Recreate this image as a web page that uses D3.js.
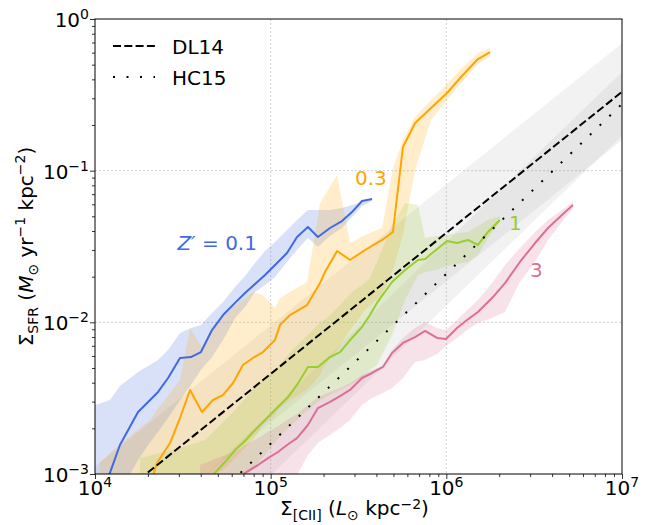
<!DOCTYPE html>
<html>
<head>
<meta charset="utf-8">
<script src="https://cdn.jsdelivr.net/npm/d3@7/dist/d3.min.js"></script>
<style>
  body { margin: 0; background: #fff; }
  text { font-family: "DejaVu Sans", sans-serif; }
</style>
</head>
<body>
<svg id="chart" width="652" height="525"></svg>
<script>
// all values below are log10 of Sigma_[CII] (x) and Sigma_SFR (y)

// Z' = 0.1
const z01X  = [3.972, 4.085, 4.142, 4.245, 4.302, 4.359, 4.416, 4.484, 4.546, 4.603, 4.666, 4.729, 4.797, 4.854, 4.911, 4.968, 5.025, 5.093, 5.150, 5.212, 5.269, 5.338, 5.406, 5.463, 5.520, 5.577];
const z01Y  = [-3.369, -2.993, -2.809, -2.591, -2.525, -2.459, -2.367, -2.235, -2.229, -2.196, -2.051, -1.952, -1.872, -1.807, -1.747, -1.688, -1.622, -1.543, -1.437, -1.371, -1.437, -1.378, -1.332, -1.273, -1.200, -1.187];
const z01Hi = [-2.558, -2.512, -2.420, -2.327, -2.288, -2.248, -2.182, -2.070, -2.037, -2.018, -1.938, -1.866, -1.767, -1.694, -1.609, -1.530, -1.470, -1.391, -1.325, -1.259, -1.259, -1.259, -1.246, -1.226, -1.207, -1.180];
const z01Lo = [-3.567, -3.270, -3.119, -2.908, -2.809, -2.723, -2.631, -2.512, -2.413, -2.314, -2.229, -2.116, -1.971, -1.899, -1.800, -1.754, -1.701, -1.602, -1.523, -1.444, -1.503, -1.431, -1.378, -1.306, -1.233, -1.200];

// Z' = 0.3
const z03X  = [4.028, 4.171, 4.313, 4.353, 4.427, 4.484, 4.541, 4.609, 4.672, 4.729, 4.786, 4.842, 4.899, 4.956, 5.025, 5.053, 5.110, 5.207, 5.281, 5.309, 5.378, 5.452, 5.537, 5.634, 5.696, 5.753, 5.822, 5.913, 6.004, 6.089, 6.180, 6.249];
const z03Y  = [-4.160, -3.633, -3.079, -2.927, -2.796, -2.631, -2.446, -2.591, -2.512, -2.479, -2.400, -2.281, -2.235, -2.196, -2.116, -2.018, -1.952, -1.886, -1.741, -1.668, -1.530, -1.589, -1.523, -1.457, -1.404, -0.844, -0.686, -0.587, -0.488, -0.376, -0.264, -0.218];
const z03Hi = [-2.921, -2.776, -2.644, -2.578, -2.466, -2.380, -2.037, -2.163, -2.031, -1.952, -1.899, -1.853, -1.800, -1.820, -1.905, -1.840, -1.800, -1.734, -1.213, -1.160, -1.028, -1.477, -1.424, -1.378, -0.982, -0.798, -0.646, -0.534, -0.429, -0.323, -0.224, -0.191];
const z03Lo = [-4.358, -3.831, -3.303, -3.237, -3.171, -3.105, -3.039, -3.026, -3.006, -2.974, -2.908, -2.842, -2.776, -2.677, -2.611, -2.565, -2.512, -2.446, -2.347, -2.281, -2.182, -2.051, -1.919, -1.820, -1.655, -1.424, -0.996, -0.666, -0.534, -0.415, -0.297, -0.244];

// Z' = 1
const z1X  = [4.256, 4.398, 4.541, 4.626, 4.683, 4.740, 4.797, 4.848, 4.894, 4.968, 5.036, 5.099, 5.150, 5.212, 5.269, 5.338, 5.395, 5.463, 5.520, 5.565, 5.605, 5.691, 5.765, 5.839, 5.879, 5.941, 6.004, 6.061, 6.123, 6.180, 6.237, 6.305];
const z1Y  = [-3.732, -3.488, -3.237, -3.092, -2.993, -2.921, -2.842, -2.789, -2.730, -2.644, -2.565, -2.492, -2.413, -2.294, -2.294, -2.229, -2.196, -2.103, -2.031, -1.952, -1.872, -1.734, -1.655, -1.589, -1.582, -1.523, -1.464, -1.477, -1.457, -1.490, -1.404, -1.325];
const z1Hi = [-2.894, -2.855, -2.809, -2.776, -2.710, -2.644, -2.578, -2.512, -2.446, -2.367, -2.301, -2.215, -2.149, -2.083, -2.018, -1.952, -1.886, -1.800, -1.754, -1.708, -1.602, -1.358, -1.213, -1.226, -1.444, -1.431, -1.424, -1.411, -1.404, -1.365, -1.325, -1.299];
const z1Lo = [-3.963, -3.765, -3.501, -3.303, -3.237, -3.171, -3.105, -3.039, -2.974, -2.875, -2.776, -2.697, -2.644, -2.578, -2.525, -2.479, -2.446, -2.407, -2.360, -2.314, -2.281, -2.083, -1.853, -1.688, -1.668, -1.655, -1.629, -1.615, -1.602, -1.556, -1.444, -1.338];

// Z' = 3
const z3X  = [4.598, 4.712, 4.814, 4.854, 4.928, 4.985, 5.042, 5.093, 5.150, 5.212, 5.269, 5.338, 5.395, 5.452, 5.520, 5.577, 5.639, 5.691, 5.753, 5.822, 5.879, 5.947, 5.998, 6.061, 6.118, 6.180, 6.260, 6.334, 6.419, 6.505, 6.579, 6.658, 6.721];
const z3Y  = [-3.290, -3.158, -3.039, -2.993, -2.941, -2.895, -2.855, -2.809, -2.763, -2.677, -2.565, -2.525, -2.486, -2.446, -2.367, -2.334, -2.294, -2.202, -2.136, -2.097, -2.057, -2.103, -2.110, -2.037, -1.985, -1.932, -1.840, -1.741, -1.602, -1.477, -1.378, -1.292, -1.226];
const z3Hi = [-2.941, -2.888, -2.842, -2.809, -2.763, -2.723, -2.683, -2.644, -2.604, -2.545, -2.492, -2.459, -2.433, -2.400, -2.347, -2.314, -2.288, -2.182, -2.103, -2.037, -1.998, -2.037, -2.051, -1.985, -1.919, -1.853, -1.741, -1.622, -1.510, -1.404, -1.325, -1.259, -1.207];
const z3Lo = [-3.567, -3.435, -3.303, -3.270, -3.224, -3.171, -3.119, -3.072, -3.006, -2.875, -2.796, -2.743, -2.697, -2.644, -2.545, -2.499, -2.466, -2.433, -2.367, -2.261, -2.248, -2.209, -2.156, -2.103, -2.051, -2.004, -1.971, -1.932, -1.734, -1.602, -1.457, -1.338, -1.246];

// observed relations: log y = icpt + slope * log x, +- scatter
const relNames   = ["DL14", "HC15"];
const relSlope   = [0.93, 1.12];
const relIcpt    = [-6.99, -8.40];
const relScatter = [0.32, 0.21];
const relRangeX  = [4, 7];

const xTickExp = [4, 5, 6, 7];
const yTickExp = [-3, -2, -1, 0];

const curveLabels = ["Z\u2032 = 0.1", "0.3", "1", "3"];
// label anchor points (log x, log y)
const labelX = [4.922, 5.480, 6.357, 6.476];
const labelY = [-1.523, -1.094, -1.391, -1.701];

let svg = d3.select("#chart");
let margin = {left: 95, right: 30, top: 19, bottom: 51};
let width = 652 - margin.left - margin.right;
let height = 525 - margin.top - margin.bottom;

let x = d3.scaleLog().domain([1e4, 1e7]).range([0, width]);
let y = d3.scaleLog().domain([1e-3, 1]).range([height, 0]);
let p = v => Math.pow(10, v);

let g = svg.append("g").attr("transform", `translate(${margin.left},${margin.top})`);

svg.append("defs").append("clipPath").attr("id", "clip")
    .append("rect").attr("width", width).attr("height", height);

// grid
g.selectAll("line.gx").data(xTickExp.slice(1, -1)).enter().append("line")
    .attr("x1", d => x(p(d))).attr("x2", d => x(p(d)))
    .attr("y1", 0).attr("y2", height)
    .attr("stroke", "#c4c4c4").attr("stroke-width", 0.8).attr("stroke-dasharray", "2,2");
g.selectAll("line.gy").data(yTickExp.slice(1, -1)).enter().append("line")
    .attr("y1", d => y(p(d))).attr("y2", d => y(p(d)))
    .attr("x1", 0).attr("x2", width)
    .attr("stroke", "#c4c4c4").attr("stroke-width", 0.8).attr("stroke-dasharray", "2,2");

let plot = g.append("g").attr("clip-path", "url(#clip)");

// gray scatter bands of the observed relations
relNames.forEach((n, i) => {
    let area = d3.area()
        .x(d => x(p(d)))
        .y0(d => y(p(relIcpt[i] + relSlope[i] * d - relScatter[i])))
        .y1(d => y(p(relIcpt[i] + relSlope[i] * d + relScatter[i])));
    plot.append("path").datum(relRangeX)
        .attr("d", area).attr("fill", "gray").attr("fill-opacity", 0.1);
});

let series = [
    {x: z01X, y: z01Y, lo: z01Lo, hi: z01Hi, color: "#4169e1"},
    {x: z03X, y: z03Y, lo: z03Lo, hi: z03Hi, color: "#ffa500"},
    {x: z1X,  y: z1Y,  lo: z1Lo,  hi: z1Hi,  color: "#9acd32"},
    {x: z3X,  y: z3Y,  lo: z3Lo,  hi: z3Hi,  color: "#db7093"}
];

series.forEach(s => {
    let area = d3.area()
        .x(i => x(p(s.x[i])))
        .y0(i => y(p(s.lo[i])))
        .y1(i => y(p(s.hi[i])));
    plot.append("path").datum(d3.range(s.x.length))
        .attr("d", area).attr("fill", s.color).attr("fill-opacity", 0.2);
});

series.forEach(s => {
    let line = d3.line()
        .x(i => x(p(s.x[i])))
        .y(i => y(p(s.y[i])));
    plot.append("path").datum(d3.range(s.x.length))
        .attr("d", line).attr("fill", "none")
        .attr("stroke", s.color).attr("stroke-width", 2)
        .attr("stroke-linejoin", "round");
});

let relDash = ["8,3.3", "2,11.5"];
relNames.forEach((n, i) => {
    let line = d3.line()
        .x(d => x(p(d)))
        .y(d => y(p(relIcpt[i] + relSlope[i] * d)));
    plot.append("path").datum(relRangeX)
        .attr("d", line).attr("fill", "none")
        .attr("stroke", "black").attr("stroke-width", 2)
        .attr("stroke-dasharray", relDash[i]);
});

// axes and ticks
let minor = [];
xTickExp.slice(0, -1).forEach(e => d3.range(2, 10).forEach(k => minor.push(k * p(e))));
let minorY = [];
yTickExp.slice(0, -1).forEach(e => d3.range(2, 10).forEach(k => minorY.push(k * p(e))));

g.append("g").attr("transform", `translate(0,${height})`)
    .call(d3.axisBottom(x).tickValues(xTickExp.map(p)).tickSize(5).tickFormat(""));
g.append("g").attr("transform", `translate(0,${height})`)
    .call(d3.axisBottom(x).tickValues(minor).tickSize(3).tickFormat(""));
g.append("g")
    .call(d3.axisLeft(y).tickValues(yTickExp.map(p)).tickSize(5).tickFormat(""));
g.append("g")
    .call(d3.axisLeft(y).tickValues(minorY).tickSize(3).tickFormat(""));
g.selectAll(".domain").remove();
g.selectAll(".tick line").attr("stroke", "#000").attr("stroke-width", 0.8);

g.append("rect").attr("width", width).attr("height", height)
    .attr("fill", "none").attr("stroke", "#000").attr("stroke-width", 1);

// tick labels with superscripts
let expText = e => (e < 0 ? "\u2212" + (-e) : "" + e);
xTickExp.forEach(e => {
    let t = g.append("text").attr("x", x(p(e))).attr("y", height + 21)
        .attr("text-anchor", "middle").attr("font-size", 20);
    t.append("tspan").text("10");
    t.append("tspan").attr("font-size", 14).attr("dy", -8).text(expText(e));
});
yTickExp.forEach(e => {
    let t = g.append("text").attr("x", -6).attr("y", y(p(e)) + 8)
        .attr("text-anchor", "end").attr("font-size", 20);
    t.append("tspan").text("10");
    t.append("tspan").attr("font-size", 14).attr("dy", -8).text(expText(e));
});

// axis titles
let xl = g.append("text").attr("x", width / 2 - 4).attr("y", height + 41)
    .attr("text-anchor", "middle").attr("font-size", 20);
xl.append("tspan").text("\u03a3");
xl.append("tspan").attr("font-size", 14).attr("dy", 5).text("[CII]");
xl.append("tspan").attr("dy", -5).text(" (");
xl.append("tspan").attr("font-style", "italic").text("L");
xl.append("tspan").attr("font-size", 14).attr("dy", 5).text("\u2299");
xl.append("tspan").attr("dy", -5).text(" kpc");
xl.append("tspan").attr("font-size", 14).attr("dy", -6).text("\u22122");
xl.append("tspan").attr("dy", 6).text(")");

let yl = g.append("text")
    .attr("transform", `translate(${33 - margin.left},${height / 2}) rotate(-90)`)
    .attr("text-anchor", "middle").attr("font-size", 20);
yl.append("tspan").text("\u03a3");
yl.append("tspan").attr("font-size", 14).attr("dy", 5).text("SFR");
yl.append("tspan").attr("dy", -5).text(" (");
yl.append("tspan").attr("font-style", "italic").text("M");
yl.append("tspan").attr("font-size", 14).attr("dy", 5).text("\u2299");
yl.append("tspan").attr("dy", -5).text(" yr");
yl.append("tspan").attr("font-size", 14).attr("dy", -8).text("\u22121");
yl.append("tspan").attr("dy", 8).text(" kpc");
yl.append("tspan").attr("font-size", 14).attr("dy", -8).text("\u22122");
yl.append("tspan").attr("dy", 8).text(")");

// curve labels
series.forEach((s, i) => {
    let t = g.append("text").attr("x", x(p(labelX[i]))).attr("y", y(p(labelY[i])))
        .attr("text-anchor", i === 0 ? "end" : "start")
        .attr("font-size", 20).attr("fill", s.color);
    if (i === 0) {
        t.append("tspan").attr("font-style", "italic").text("Z\u2032");
        t.append("tspan").text(" = 0.1");
    } else {
        t.text(curveLabels[i]);
    }
});

// legend
relNames.forEach((n, i) => {
    let ly = 27 + i * 31;
    g.append("line").attr("x1", 18).attr("x2", 60).attr("y1", ly).attr("y2", ly)
        .attr("stroke", "black").attr("stroke-width", 2).attr("stroke-dasharray", relDash[i]);
    g.append("text").attr("x", 77).attr("y", ly + 8).attr("font-size", 20).text(n);
});
</script>
</body>
</html>
